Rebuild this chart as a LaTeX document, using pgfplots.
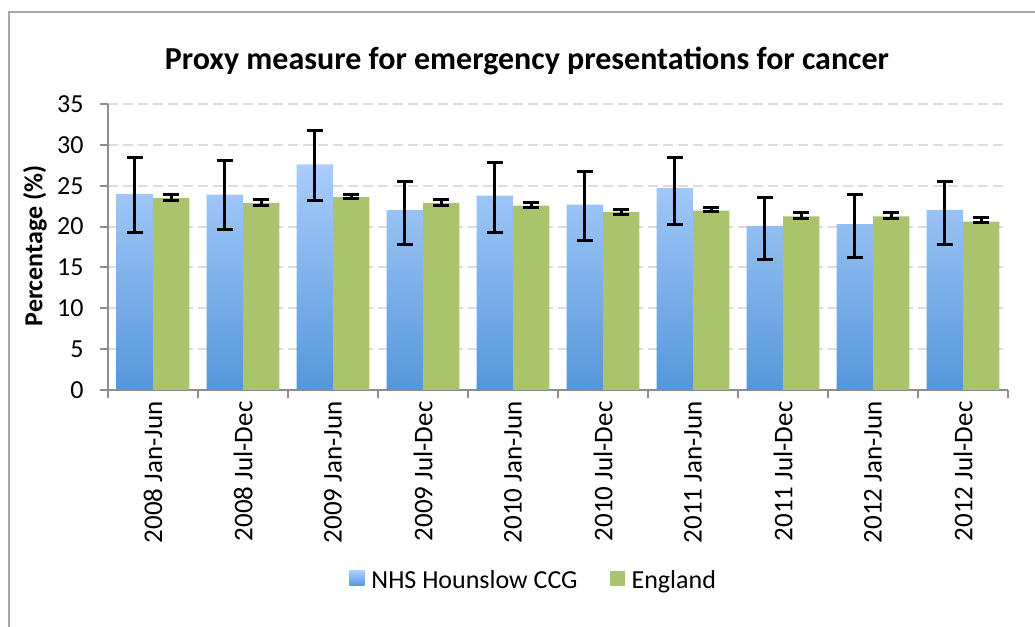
\documentclass[border=0pt]{standalone}
\usepackage{pgfplots}
\pgfplotsset{compat=1.18}
\usepackage{pgfplotstable}
\usepackage{fontspec}
\setmainfont{Carlito}

\definecolor{bluetop}{HTML}{AACDFB}
\definecolor{bluebot}{HTML}{5597DA}
\definecolor{engl}{HTML}{A9C46C}
\definecolor{axgray}{HTML}{8E8E8E}
\definecolor{gridgray}{HTML}{DCDCDC}
\definecolor{framegray}{HTML}{A6A6A6}

\pgfplotstableread{
x y ep em
0 24.0 4.5 4.7
1 23.9 4.2 4.3
2 27.6 4.2 4.4
3 22.0 3.5 4.2
4 23.8 4.0 4.5
5 22.7 4.1 4.4
6 24.7 3.8 4.4
7 20.1 3.5 4.1
8 20.3 3.6 4.1
9 22.0 3.5 4.2
}\hounslow

\pgfplotstableread{
x y ep em
0 23.5 0.45 0.30
1 22.9 0.40 0.30
2 23.6 0.30 0.20
3 22.9 0.40 0.30
4 22.55 0.40 0.25
5 21.8 0.30 0.30
6 21.95 0.40 0.15
7 21.25 0.45 0.30
8 21.25 0.45 0.30
9 20.6 0.45 0.10
}\england

\begin{document}
\begin{tikzpicture}[x=1pt,y=1pt]
\useasboundingbox (0,0) rectangle (1035,626);
\draw[framegray, line width=2pt] (9,-5) -- (9,614) -- (1040,614);
\node[font=\bfseries\fontsize{32}{37}\selectfont, anchor=center] at (527,565) {Proxy measure for emergency presentations for cancer};
\node[font=\bfseries\fontsize{26}{30}\selectfont, rotate=90, anchor=center] at (35,380) {Percentage (\%)};
\begin{axis}[
  at={(108pt,236pt)}, anchor=south west,
  width=900pt, height=286pt, scale only axis,
  xmin=-0.5, xmax=9.5, ymin=0, ymax=35,
  axis lines*=left,
  axis line style={axgray, line width=2pt},
  ytick={0,5,...,35},
  xtick={-0.5,0.5,...,9.5},
  x tick label as interval,
  xticklabels={2008 Jan-Jun,2008 Jul-Dec,2009 Jan-Jun,2009 Jul-Dec,2010 Jan-Jun,2010 Jul-Dec,2011 Jan-Jun,2011 Jul-Dec,2012 Jan-Jun,2012 Jul-Dec},
  tick align=outside,
  major tick length=8pt,
  tick style={axgray, line width=2pt},
  ymajorgrids,
  major grid style={gridgray, line width=2pt, dash pattern=on 10pt off 5pt},
  /pgf/number format/assume math mode=true,
  x tick label style={rotate=90, anchor=east, font=\fontsize{27}{32}\selectfont},
  y tick label style={font=\fontsize{26}{30}\selectfont, xshift=-13pt},
  legend columns=2,
  legend style={at={(0.473,-0.664)}, anchor=center, draw=none, fill=none,
    font=\fontsize{26}{30}\selectfont,
    /tikz/every even column/.append style={column sep=30pt}},
]
\addplot[ybar, bar width=0.405, bar shift=-0.2025, draw=none, top color=bluetop, bottom color=bluebot,
  legend image code/.code={\path[top color=bluetop,bottom color=bluebot] (0pt,-6pt) rectangle (15pt,9pt);}]
  table[x=x,y=y]{\hounslow};
\addlegendentry{\hspace{5pt}NHS Hounslow CCG}
\addplot[ybar, bar width=0.405, bar shift=0.2025, draw=none, fill=engl,
  legend image code/.code={\path[fill=engl] (0pt,-6pt) rectangle (15pt,9pt);}]
  table[x=x,y=y]{\england};
\addlegendentry{\hspace{5pt}England}
\addplot[draw=none, mark=none, forget plot,
  error bars/.cd, y dir=both, y explicit,
  error bar style={line width=3pt, black, solid},
  error mark options={rotate=90, mark size=8pt, line width=3pt, black, solid}]
  table[x expr=\thisrow{x}-0.2025,y=y,y error plus=ep,y error minus=em]{\hounslow};
\addplot[draw=none, mark=none, forget plot,
  error bars/.cd, y dir=both, y explicit,
  error bar style={line width=3pt, black, solid},
  error mark options={rotate=90, mark size=8pt, line width=3pt, black, solid}]
  table[x expr=\thisrow{x}+0.2025,y=y,y error plus=ep,y error minus=em]{\england};
\end{axis}
\end{tikzpicture}
\end{document}
